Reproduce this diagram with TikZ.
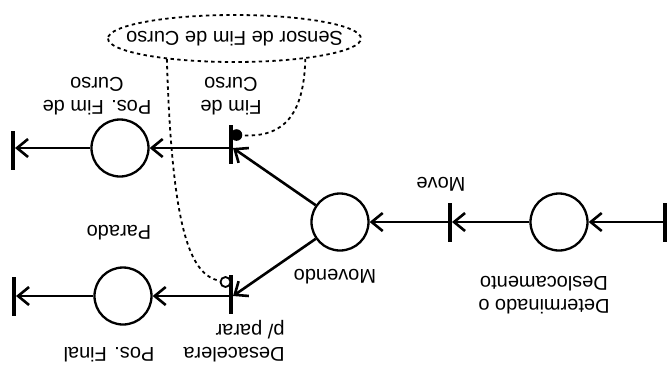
\documentclass[tikz,border=0pt]{standalone}
\usepackage{fontspec}
\setmainfont{Liberation Sans}
\usetikzlibrary{arrows.meta, shapes.geometric}
\tikzset{
  lugar/.style={circle, draw, line width=1.15pt, minimum size=28.5pt, inner sep=0pt},
  barra/.style={rectangle, fill, minimum width=1.6pt, minimum height=19.5pt, inner sep=0pt},
  rotulo/.style={font=\fontsize{10}{11.5}\selectfont, align=center, inner sep=1pt},
  seta/.style={-{Straight Barb[length=5.5pt, width=9pt]}, line width=1.3pt},
  sensorLinha/.style={line width=0.9pt, dash pattern=on 1.7pt off 1.7pt},
  sensorCaixa/.style={ellipse, draw, sensorLinha, minimum width=126.5pt,
    minimum height=23.5pt, inner xsep=-12pt, inner ysep=0pt,
    font=\fontsize{10}{11.5}\selectfont},
  marcaCheia/.style={circle, fill, minimum size=5.8pt, inner sep=0pt},
  marcaVazia/.style={circle, draw, fill=white, line width=0.9pt, minimum size=5pt, inner sep=0pt},
}

\begin{document}
\begin{tikzpicture}[x=0.5pt, y=0.5pt, rotate=180, transform shape]
  \useasboundingbox (0,0) rectangle (668,371);

  % lugares e transicoes
  \node[barra] (ini) at (3,222) {};
  \node[lugar] (determinado) at (109,222) {};
  \node[barra] (move) at (218,222) {};
  \node[lugar] (movendo) at (328,222) {};
  \node[barra] (desacelera) at (437,294) {};
  \node[lugar] (posFinal) at (545,296) {};
  \node[barra] (fimFinal) at (654,296) {};
  \node[barra] (fimCurso) at (437,144) {};
  \node[lugar] (posFimCurso) at (548,148) {};
  \node[barra] (fimPosCurso) at (655,150) {};

  % sensor e marcas nas transicoes
  \node[sensorCaixa] (sensor) at (433.5,38.5) {Sensor de Fim de Curso};
  \node[marcaCheia] (toque) at (431.5,135) {};
  \node[marcaVazia] (inibe) at (442.5,282) {};

  % rotulos
  \node[rotulo] (rDet) at (124,295) {Determinado o\\Deslocamento};
  \node[rotulo] (rMove) at (227,184) {Move};
  \node[rotulo] (rMovendo) at (333,277) {Movendo};
  \node[rotulo, align=left] (rDesac) at (434,341.5) {Desacelera\\p/ parar};
  \node[rotulo] (rFinal) at (559,355) {Pos. Final};
  \node[rotulo] (rParado) at (549,233) {Parado};
  \node[rotulo] (rFim) at (437,96) {Fim de\\Curso};
  \node[rotulo] (rPosFim) at (571,96) {Pos. Fim de\\Curso};

  % arcos
  \draw[seta] (ini) -- (determinado);
  \draw[seta] (determinado) -- (move);
  \draw[seta] (move) -- (movendo);
  \draw[seta] (movendo) -- (fimCurso.west |- posFimCurso);
  \draw[seta] (movendo) -- (desacelera.west |- posFinal);
  \draw[seta] (fimCurso.east |- posFimCurso) -- (posFimCurso);
  \draw[seta] (posFimCurso) -- (fimPosCurso.west |- posFimCurso);
  \draw[seta] (desacelera.east |- posFinal) -- (posFinal);
  \draw[seta] (posFinal) -- (fimFinal);

  % ligacoes do sensor
  \draw[sensorLinha] (sensor.17) .. controls (496,230) and (478,275) .. (inibe);
  \draw[sensorLinha] (sensor.164) .. controls (364,125) and (393,137) .. (toque);
\end{tikzpicture}
\end{document}
